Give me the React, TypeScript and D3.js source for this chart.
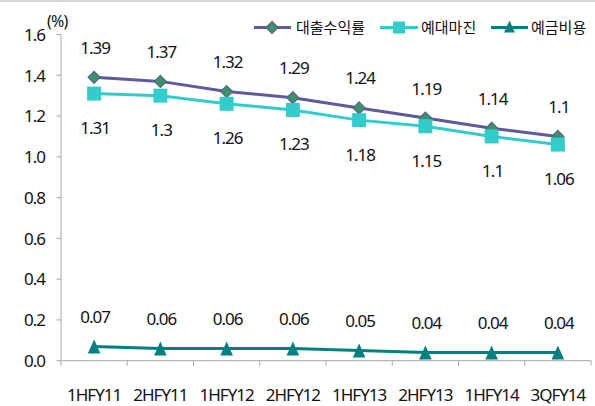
import React from "react";
import * as d3 from "d3";

const categories = ["1HFY11", "2HFY11", "1HFY12", "2HFY12", "1HFY13", "2HFY13", "1HFY14", "3QFY14"];
const loanYield = [1.39, 1.37, 1.32, 1.29, 1.24, 1.19, 1.14, 1.1];
const loanDepositMargin = [1.31, 1.3, 1.26, 1.23, 1.18, 1.15, 1.1, 1.06];
const depositCost = [0.07, 0.06, 0.06, 0.06, 0.05, 0.04, 0.04, 0.04];
const yTicks = [0, 0.2, 0.4, 0.6, 0.8, 1.0, 1.2, 1.4, 1.6];
const seriesNames = ["대출수익률", "예대마진", "예금비용"];

const W = 595;
const H = 406;
const left = 61;
const right = 591;
const top = 34.5;
const bottom = 360.7;

const NUM_FONT = "'Noto Sans', 'DejaVu Sans', sans-serif";
const KR_FONT = "'Noto Sans CJK KR', 'Noto Sans', sans-serif";
const NUM_SIZE = 17;
const NUM_SPACING = -1;

const COLORS = {
  yieldLine: "#5E5A9E",
  yieldMarker: "#3A9660",
  margin: "#33CCCC",
  cost: "#008080",
  axis: "#A6A6A6",
  text: "#111111",
};

function Diamond({ x, y, s = 6 }: { x: number; y: number; s?: number }) {
  const p = `M${x},${y - s} L${x + s},${y} L${x},${y + s} L${x - s},${y} Z`;
  return <path d={p} fill={COLORS.yieldMarker} stroke={COLORS.yieldLine} strokeWidth={1.2} />;
}

function Square({ x, y, s = 7 }: { x: number; y: number; s?: number }) {
  return <rect x={x - s} y={y - s} width={2 * s} height={2 * s} fill={COLORS.margin} />;
}

function Triangle({ x, y, s = 7 }: { x: number; y: number; s?: number }) {
  const p = `M${x},${y - s} L${x + s * 0.9},${y + s} L${x - s * 0.9},${y + s} Z`;
  return <path d={p} fill={COLORS.cost} />;
}

function Num({ x, y, anchor = "middle", children }: { x: number; y: number; anchor?: string; children: React.ReactNode }) {
  return (
    <text
      x={x}
      y={y}
      textAnchor={anchor as any}
      fontFamily={NUM_FONT}
      fontSize={NUM_SIZE}
      fill={COLORS.text}
      letterSpacing={NUM_SPACING}
    >
      {children}
    </text>
  );
}

export default function App() {
  const x = d3.scaleBand<string>().domain(categories).range([left, right]);
  const y = d3.scaleLinear().domain([0, 1.6]).range([bottom, top]);
  const cx = (c: string) => (x(c) as number) + x.bandwidth() / 2;

  const line = d3
    .line<number>()
    .x((_, i) => cx(categories[i]))
    .y((v) => y(v));

  return (
    <svg
      width={W}
      height={H}
      style={{ position: "absolute", left: 0, top: 0, background: "#fff" }}
    >
      <rect x={0} y={0} width={W} height={H} fill="#fff" />
      <line x1={0} x2={W} y1={1} y2={1} stroke="#C8C8C8" strokeWidth={1.5} />

      {/* y axis */}
      <line x1={left} x2={left} y1={top} y2={bottom} stroke={COLORS.axis} />
      {yTicks.map((t) => (
        <g key={t}>
          <line x1={left - 4.5} x2={left} y1={y(t)} y2={y(t)} stroke={COLORS.axis} />
          <Num x={45} y={y(t) + 6.3} anchor="end">
            {t.toFixed(1)}
          </Num>
        </g>
      ))}
      <text x={47} y={27} fontFamily={NUM_FONT} fontSize={16} fill={COLORS.text} letterSpacing={-0.8}>
        (%)
      </text>

      {/* x axis */}
      <line x1={left} x2={right} y1={bottom} y2={bottom} stroke={COLORS.axis} />
      {categories.map((c) => (
        <line
          key={"t" + c}
          x1={x(c) as number}
          x2={x(c) as number}
          y1={bottom}
          y2={bottom + 5}
          stroke={COLORS.axis}
        />
      ))}
      <line x1={right} x2={right} y1={bottom} y2={bottom + 5} stroke={COLORS.axis} />
      {categories.map((c) => (
        <Num key={"l" + c} x={cx(c)} y={401}>
          {c}
        </Num>
      ))}

      {/* lines */}
      <path d={line(loanYield) || ""} fill="none" stroke={COLORS.yieldLine} strokeWidth={3} />
      <path d={line(loanDepositMargin) || ""} fill="none" stroke={COLORS.margin} strokeWidth={3} />
      <path d={line(depositCost) || ""} fill="none" stroke={COLORS.cost} strokeWidth={3} />

      {/* markers */}
      {loanYield.map((v, i) => (
        <Diamond key={"d" + i} x={cx(categories[i])} y={y(v)} />
      ))}
      {loanDepositMargin.map((v, i) => (
        <Square key={"s" + i} x={cx(categories[i])} y={y(v)} />
      ))}
      {depositCost.map((v, i) => (
        <Triangle key={"tr" + i} x={cx(categories[i])} y={y(v)} />
      ))}

      {/* value labels */}
      {loanYield.map((v, i) => (
        <Num key={"ly" + i} x={cx(categories[i]) + 1} y={y(v) - 23.5}>
          {String(v)}
        </Num>
      ))}
      {loanDepositMargin.map((v, i) => (
        <Num key={"lm" + i} x={cx(categories[i]) + 1} y={y(v) + 40.5}>
          {String(v)}
        </Num>
      ))}
      {depositCost.map((v, i) => (
        <Num key={"lc" + i} x={cx(categories[i]) + 1} y={y(v) - 23.5}>
          {v.toFixed(2)}
        </Num>
      ))}

      {/* legend */}
      <g>
        <line x1={254} x2={291} y1={27.5} y2={27.5} stroke={COLORS.yieldLine} strokeWidth={3} />
        <Diamond x={272} y={27.5} />
        <text x={296} y={33} fontFamily={KR_FONT} fontSize={15} fill={COLORS.text}>
          {seriesNames[0]}
        </text>
        <line x1={380} x2={418} y1={27.5} y2={27.5} stroke={COLORS.margin} strokeWidth={3} />
        <Square x={399} y={27.5} s={6} />
        <text x={421} y={33} fontFamily={KR_FONT} fontSize={15} fill={COLORS.text}>
          {seriesNames[1]}
        </text>
        <line x1={491} x2={528} y1={27.5} y2={27.5} stroke={COLORS.cost} strokeWidth={3} />
        <Triangle x={509.5} y={26.5} s={6} />
        <text x={531} y={33} fontFamily={KR_FONT} fontSize={15} fill={COLORS.text}>
          {seriesNames[2]}
        </text>
      </g>
    </svg>
  );
}
